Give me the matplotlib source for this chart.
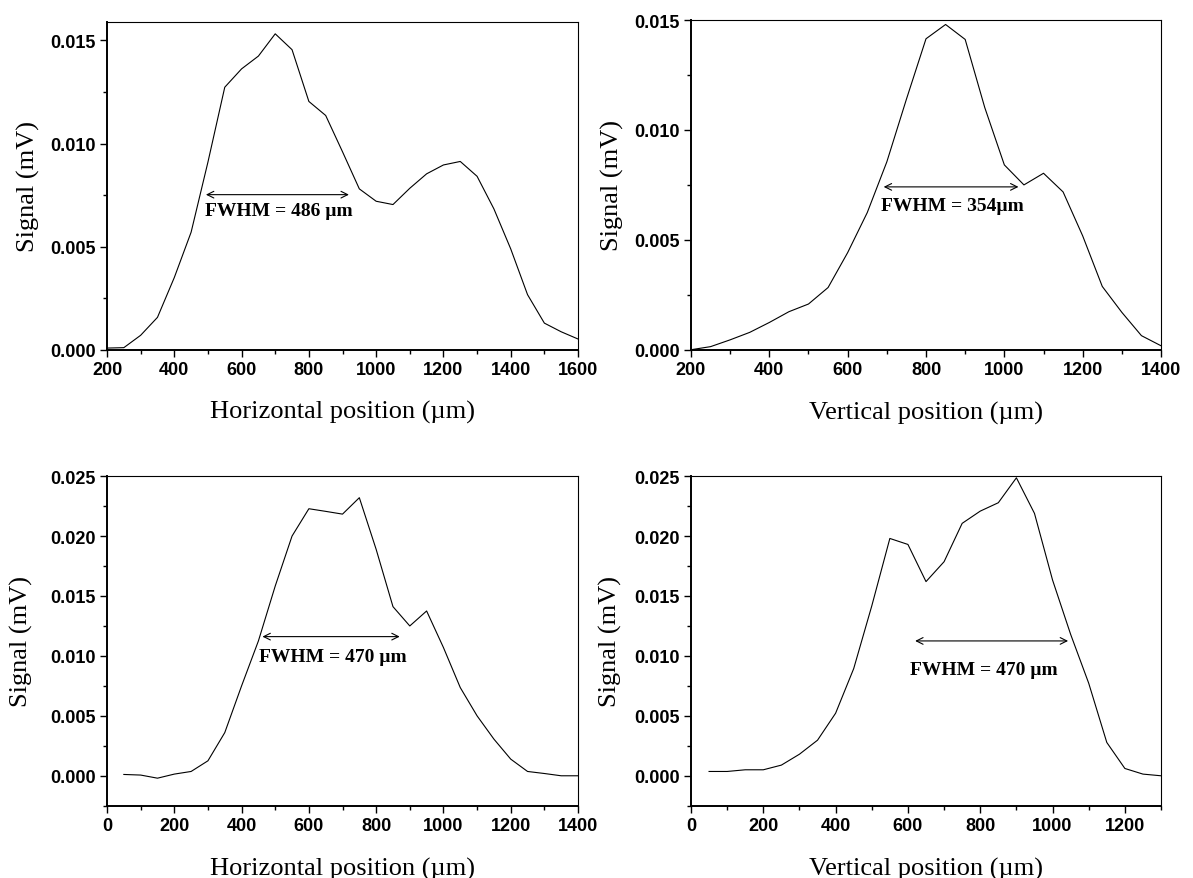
import numpy as np
import matplotlib
matplotlib.use("Agg")
import matplotlib.pyplot as plt
from matplotlib.ticker import MultipleLocator, FormatStrFormatter

# panel (a): horizontal scan, top left
x_a = [200, 250, 300, 350, 400, 450, 500, 550, 600, 650, 700, 750, 800, 850, 900,
       950, 1000, 1050, 1100, 1150, 1200, 1250, 1300, 1350, 1400, 1450, 1500, 1550, 1600]
y_a = [0.00008, 0.0001, 0.0007, 0.00157, 0.0035, 0.0057, 0.0091, 0.01273, 0.01362,
       0.01424, 0.01532, 0.01455, 0.01204, 0.01136, 0.0096, 0.0078, 0.0072, 0.00704,
       0.00783, 0.00853, 0.00896, 0.00913, 0.00841, 0.00683, 0.00489, 0.00267,
       0.00129, 0.00087, 0.00052]

# panel (b): vertical scan, top right
x_b = [200, 250, 300, 350, 400, 450, 500, 550, 600, 650, 700, 750, 800, 850, 900,
       950, 1000, 1050, 1100, 1150, 1200, 1250, 1300, 1350, 1400]
y_b = [0.0, 0.00014, 0.00045, 0.00079, 0.00124, 0.00173, 0.00208, 0.00283, 0.00442,
       0.00624, 0.00855, 0.0114, 0.01415, 0.0148, 0.01412, 0.01102, 0.00841, 0.0075,
       0.00803, 0.00718, 0.00518, 0.00288, 0.0017, 0.00064, 0.00018]

# panel (c): horizontal scan, bottom left
x_c = [50, 100, 150, 200, 250, 300, 350, 400, 450, 500, 550, 600, 650, 700, 750, 800,
       850, 900, 950, 1000, 1050, 1100, 1150, 1200, 1250, 1300, 1350, 1400]
y_c = [0.00011, 0.00006, -0.0002, 0.00014, 0.00036, 0.00125, 0.0036, 0.0075, 0.01125,
       0.01583, 0.02, 0.02228, 0.02206, 0.02183, 0.0232, 0.01889, 0.01411, 0.0125,
       0.01375, 0.0107, 0.00736, 0.005, 0.00306, 0.00139, 0.00036, 0.00019, 0.0, 0.0]

# panel (d): vertical scan, bottom right
x_d = [50, 100, 150, 200, 250, 300, 350, 400, 450, 500, 550, 600, 650, 700, 750, 800,
       850, 900, 950, 1000, 1050, 1100, 1150, 1200, 1250, 1300]
y_d = [0.00036, 0.00036, 0.0005, 0.0005, 0.00089, 0.0018, 0.00297, 0.00522, 0.00894,
       0.01417, 0.0198, 0.0193, 0.0162, 0.01786, 0.02106, 0.02208, 0.02278, 0.02486,
       0.02189, 0.01633, 0.0118, 0.00772, 0.00278, 0.00061, 0.00014, 0.0]

fwhm_text = ["FWHM = 486 \u00b5m", "FWHM = 354\u00b5m", "FWHM = 470 \u00b5m", "FWHM = 470 \u00b5m"]
fwhm_arrow = [(494, 919, 0.00752), (692, 1036, 0.00741), (462, 870, 0.01161), (620, 1043, 0.01125)]
fwhm_text_pos = [(490, 0.00675), (685, 0.00658), (453, 0.00994), (606, 0.00889)]

xlabels = ["Horizontal position (\u00b5m)", "Vertical position (\u00b5m)",
           "Horizontal position (\u00b5m)", "Vertical position (\u00b5m)"]

serif = "Liberation Serif"
sans = "Liberation Sans"

fig = plt.figure(figsize=(11.93, 8.79), dpi=100)

rects = [[0.0897, 0.601, 0.3948, 0.373],
         [0.5792, 0.601, 0.394, 0.375],
         [0.0897, 0.0822, 0.3948, 0.375],
         [0.5792, 0.0822, 0.394, 0.375]]
xlims = [(200, 1600), (200, 1400), (0, 1400), (0, 1300)]
ylims = [(0, 0.0159), (0, 0.015), (-0.0025, 0.025), (-0.0025, 0.025)]
ylab_x = [-0.142, -0.143, -0.157, -0.147]

data = [(x_a, y_a), (x_b, y_b), (x_c, y_c), (x_d, y_d)]

for i, (xs, ys) in enumerate(data):
    ax = fig.add_axes(rects[i])
    ax.plot(xs, ys, color="black", lw=0.8)
    ax.set_xlim(*xlims[i])
    ax.set_ylim(*ylims[i])

    ax.xaxis.set_major_locator(MultipleLocator(200))
    ax.xaxis.set_minor_locator(MultipleLocator(100))
    ax.yaxis.set_major_locator(MultipleLocator(0.005))
    ax.yaxis.set_minor_locator(MultipleLocator(0.0025))
    ax.yaxis.set_major_formatter(FormatStrFormatter("%.3f"))

    ax.tick_params(which="both", direction="out", top=False, right=False)
    ax.tick_params(which="major", length=5, width=1.0, labelsize=13, pad=3)
    ax.tick_params(which="minor", length=3, width=1.0)
    for lab in ax.get_xticklabels() + ax.get_yticklabels():
        lab.set_fontfamily(sans)
        lab.set_fontweight("bold")
    ax.spines["left"].set_linewidth(1.4)
    ax.spines["bottom"].set_linewidth(1.4)
    ax.spines["top"].set_linewidth(0.8)
    ax.spines["right"].set_linewidth(0.8)

    ax.set_xlabel(xlabels[i], fontsize=19, family=serif)
    ax.set_ylabel("Signal (mV)", fontsize=19, family=serif)
    ax.xaxis.set_label_coords(0.5, -0.154)
    ax.yaxis.set_label_coords(ylab_x[i], 0.5)

    x0, x1, ya = fwhm_arrow[i]
    ax.annotate("", xy=(x1, ya), xytext=(x0, ya),
                arrowprops=dict(arrowstyle="<->", color="black", lw=0.8,
                                shrinkA=0, shrinkB=0, mutation_scale=12))
    tx, ty = fwhm_text_pos[i]
    ax.text(tx, ty, fwhm_text[i], fontsize=14, fontweight="bold", family=serif,
            ha="left", va="center")

fig.savefig("out.png", dpi=100)
